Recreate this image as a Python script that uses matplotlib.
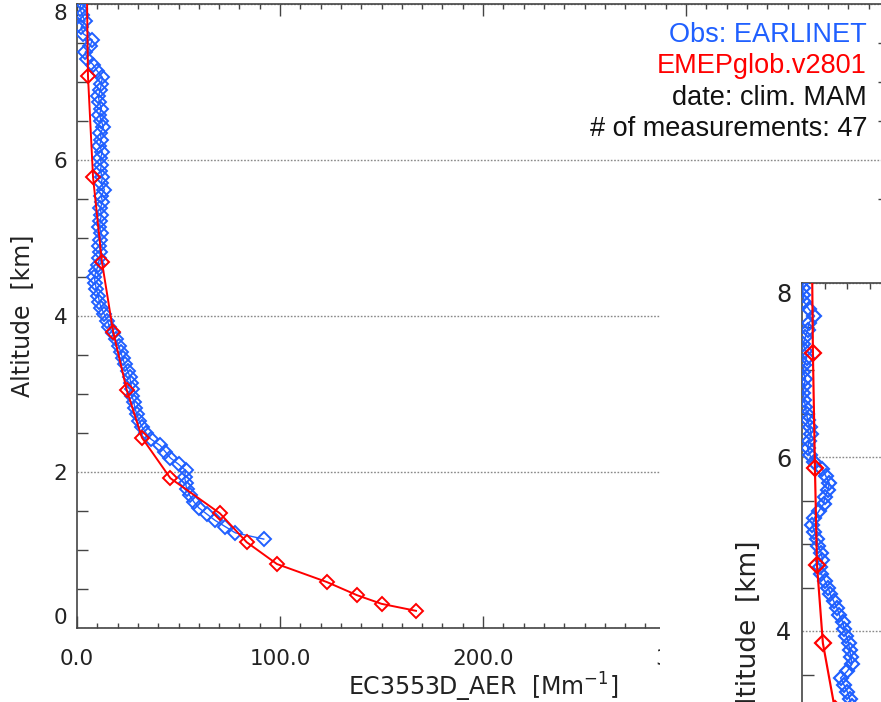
import numpy as np
import matplotlib.pyplot as plt
from matplotlib.patches import Rectangle
from matplotlib.ticker import MultipleLocator, FormatStrFormatter

plt.rcParams['font.family'] = 'DejaVu Sans'

# ---- data : station 1 (full panel) ----
obs_alt = [1.14, 1.22, 1.30, 1.38, 1.46, 1.54, 1.62, 1.70, 1.78, 1.86, 1.94, 2.02,
           2.10, 2.18, 2.26, 2.34, 2.42, 2.50, 2.58, 2.66, 2.74, 2.82, 2.90, 2.98,
           3.06, 3.14, 3.22, 3.30, 3.38, 3.46, 3.54, 3.62, 3.70, 3.78, 3.86, 3.94,
           4.02, 4.10, 4.18, 4.26, 4.34, 4.42, 4.50, 4.58, 4.66, 4.74, 4.82, 4.90,
           4.98, 5.06, 5.14, 5.22, 5.30, 5.38, 5.46, 5.54, 5.62, 5.70, 5.78, 5.86,
           5.94, 6.02, 6.10, 6.18, 6.26, 6.34, 6.42, 6.50, 6.58, 6.66, 6.74, 6.82,
           6.90, 6.98, 7.06, 7.14, 7.22, 7.30, 7.38, 7.46, 7.54, 7.62, 7.70, 7.78,
           7.86, 7.94, 8.02]
obs_ext = [92, 78, 73, 68, 64, 60, 57.5, 55.5, 54, 53.5, 53, 53.5,
           50, 46, 43.5, 41, 36.5, 34, 32, 30.5, 29.5, 28.5, 28, 27,
           27, 26.5, 26, 25, 23.5, 22.5, 21.5, 20.5, 19, 17.5, 16, 15,
           13.5, 12, 11, 10.5, 9.5, 9, 8.5, 9.5, 10.5, 11, 11.5, 11,
           11.5, 12, 11, 11.5, 12, 11.5, 12.5, 12, 13.5, 12, 12.5, 11.5,
           12, 11.5, 12.5, 11, 12, 11.5, 13, 12, 11, 12, 11, 10.5,
           11.5, 12, 12.5, 10, 8, 5, 4, 6.5, 7.5, 3, 2, 4,
           2.5, 1.5, 2]
mod_alt = [8.55, 7.08, 5.78, 4.69, 3.80, 3.05, 2.44, 1.92, 1.47, 1.10, 0.82, 0.59, 0.42, 0.31, 0.22]
mod_ext = [4.7, 5.4, 7.9, 12.3, 17.8, 24.5, 32, 46, 70.4, 83.6, 98.5, 123, 138, 150, 167]

# ---- data : station 2 (partly visible panel) ----
obs2_alt = [3.14, 3.22, 3.30, 3.38, 3.46, 3.54, 3.62, 3.70, 3.78, 3.86, 3.94, 4.02,
            4.10, 4.18, 4.26, 4.34, 4.42, 4.50, 4.58, 4.66, 4.74, 4.82, 4.90, 4.98,
            5.06, 5.14, 5.22, 5.30, 5.38, 5.46, 5.54, 5.62, 5.70, 5.78, 5.86, 5.94,
            6.02, 6.10, 6.18, 6.26, 6.34, 6.42, 6.50, 6.58, 6.66, 6.74, 6.82, 6.90,
            6.98, 7.06, 7.14, 7.22, 7.30, 7.38, 7.46, 7.54, 7.62, 7.70, 7.78, 7.86,
            7.94, 8.02]
obs2_ext = [22, 21, 20, 18.5, 17, 20, 22, 21.5, 21, 20.5, 19.5, 18.5,
            18, 16.5, 15.5, 14, 12.5, 11.5, 10, 8.5, 8, 9, 8.5, 7,
            6.5, 5.5, 4.5, 5.5, 7.5, 9.5, 10, 11.5, 12, 10.5, 9, 5.5,
            3.5, 2.5, 3, 4, 3.5, 2.5, 2, 1.5, 1, 0.5, 1, 1.5,
            0.5, 1, 2, 1.5, 0.5, 1.5, 2.5, 3, 5.5, 3, 1,
            0.5, 0.3, 0.5]
mod2_alt = [8.6, 7.2, 5.87, 4.76, 3.86, 3.1, 2.45]
mod2_ext = [4.3, 4.8, 5.7, 6.6, 9.2, 14.5, 22]

blue = '#2060ff'
red = '#ff0000'
axcol = '#444444'
txtcol = '#222222'


def make_panel(ax, s, o_alt, o_ext, m_alt, m_ext):
    ax.plot(o_ext, o_alt, color=blue, lw=1.0 * s, marker='D', ms=6.8 * s,
            mfc='none', mec=blue, mew=1.4 * s, zorder=3)
    ax.plot(m_ext, m_alt, color=red, lw=1.4 * s, marker='D', ms=7 * s,
            mfc='none', mec=red, mew=1.4 * s, zorder=4)
    ax.set_xlim(0, 400)
    ax.set_ylim(0, 8)
    ax.xaxis.set_major_locator(MultipleLocator(100))
    ax.xaxis.set_minor_locator(MultipleLocator(10))
    ax.xaxis.set_major_formatter(FormatStrFormatter('%.1f'))
    ax.yaxis.set_major_locator(MultipleLocator(2))
    ax.yaxis.set_minor_locator(MultipleLocator(0.5))
    ax.tick_params(axis='x', which='both', direction='in', top=True, bottom=True,
                   colors=axcol, labelcolor=txtcol, labelsize=15.5 * s, pad=15 * s)
    ax.tick_params(axis='x', which='major', length=8.5 * s, width=1.0)
    ax.tick_params(axis='x', which='minor', length=3.6 * s, width=1.0)
    ax.tick_params(axis='y', which='both', direction='in', left=True, right=True,
                   colors=axcol, labelcolor=txtcol, labelsize=15.5 * s, pad=7 * s)
    ax.tick_params(axis='y', which='major', length=0)
    ax.tick_params(axis='y', which='minor', length=8 * s, width=1.0)
    ax.yaxis.grid(True, which='major', color='#888888', linestyle=(0, (1.2, 1.2)), lw=1.0)
    for sp in ax.spines.values():
        sp.set_color(axcol)
        sp.set_linewidth(1.2)
    ax.set_ylabel('Altitude  [km]', fontsize=17 * s, color=txtcol)
    ax.set_xlabel(r'EC3553D_AER  [Mm$^{-1}$]', fontsize=17 * s, color=txtcol)
    # keep end labels inside the axis range, like the original
    locs = ax.get_yticks()
    for t, loc in zip(ax.yaxis.get_major_ticks(), locs):
        if loc == 0:
            t.label1.set_va('bottom')
        elif loc == 8:
            t.label1.set_va('top')


fig = plt.figure(figsize=(8.81, 7.02), dpi=100)
W, H = 881.0, 702.0

# main panel
ax1 = fig.add_axes([77 / W, (H - 628) / H, 812 / W, 624 / H])
make_panel(ax1, 1.0, obs_alt, obs_ext, mod_alt, mod_ext)
ax1.yaxis.set_label_coords(-0.053, 0.5)
ax1.xaxis.set_label_coords(0.5, -0.068)

# legend texts
lx = 867 / W
fig.text(lx, 1 - 35 / H, 'Obs: EARLINET', color=blue, ha='right', va='center',
         fontsize=19.5, family='Liberation Sans')
fig.text(lx, 1 - 66 / H, 'EMEPglob.v2801', color=red, ha='right', va='center',
         fontsize=19.5, family='Liberation Sans')
fig.text(lx, 1 - 98 / H, 'date: clim. MAM', color='#111111', ha='right', va='center',
         fontsize=19.5, family='Liberation Sans')
fig.text(lx, 1 - 129 / H, '# of measurements: 47', color='#111111', ha='right',
         va='center', fontsize=19.5, family='Liberation Sans')

# next panel overlapping in the corner
cover = Rectangle((660 / W, 0), 1 - 660 / W, (H - 230) / H, transform=fig.transFigure,
                  facecolor='white', edgecolor='none', zorder=5)
fig.add_artist(cover)
s2 = 1.115
ax2 = fig.add_axes([802 / W, (H - 283) / H - 696 / H, 908 / W, 696 / H])
ax2.set_zorder(6)
make_panel(ax2, s2, obs2_alt, obs2_ext, mod2_alt, mod2_ext)
ax2.yaxis.set_label_coords(-0.044, 0.5)

fig.savefig('out.png', dpi=100)
